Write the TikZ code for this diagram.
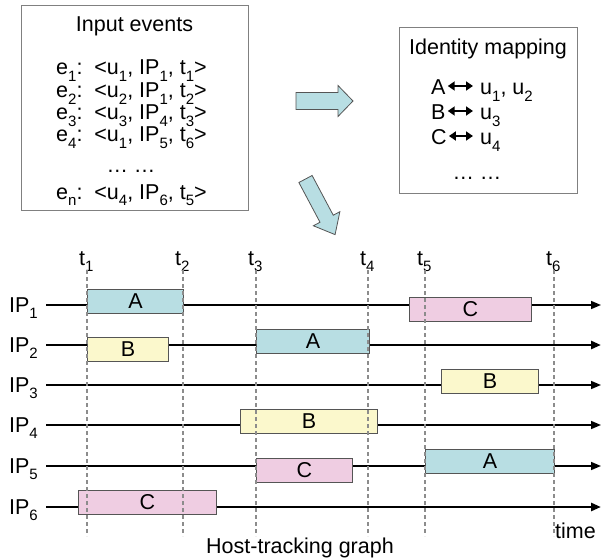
\documentclass[tikz,border=0pt]{standalone}
\usepackage{fontspec}
\setmainfont{Liberation Sans}
\usetikzlibrary{arrows.meta}
% lowered subscript in the style of the slides
\newcommand\lo[1]{\raisebox{-0.3em}{\fontsize{15}{15}\selectfont #1}}
\definecolor{hostA}{HTML}{B8DEE3}
\definecolor{hostB}{HTML}{FBF8CC}
\definecolor{hostC}{HTML}{EFCDE2}
\definecolor{edge}{HTML}{555555}
\begin{document}
\begin{tikzpicture}[x=1pt,y=-1pt,
  font=\fontsize{21.5}{25}\selectfont,
  panel/.style={draw=black!50, line width=0.9pt},
  txt/.style={inner sep=0pt, anchor=base west},
  iplabel/.style={inner sep=0pt, anchor=base east},
  tlabel/.style={inner sep=0pt, anchor=base west},
  timeline/.style={line width=1.6pt, -{Triangle[length=10pt,width=8pt]}},
  heavyline/.style={line width=2.6pt, -{Triangle[length=10pt,width=8pt]}},
  tick/.style={draw=black!45, line width=1.3pt, dash pattern=on 4pt off 3pt},
  slot/.style={draw=edge, line width=0.9pt, inner sep=0pt, anchor=west, minimum height=24pt},
  slotA/.style={slot, fill=hostA},
  slotB/.style={slot, fill=hostB},
  slotC/.style={slot, fill=hostC},
  blockarrow/.style={draw=edge, line width=0.8pt, fill=hostA},
  maparrow/.style={line width=2.2pt, {Triangle[length=7pt,width=9pt]}-{Triangle[length=7pt,width=9pt]}}
]
\useasboundingbox (0,0) rectangle (602,559);

% ---- input events panel
\draw[panel] (21,5) rectangle (248,210);
\node[inner sep=0pt, anchor=base] (evtitle) at (134.5,32) {Input events};
\node[txt] (ev1) at (56,75) {e\lo{1}:\ \ {<}u\lo{1}, IP\lo{1}, t\lo{1}{>}};
\node[txt] (ev2) at (56,98) {e\lo{2}:\ \ {<}u\lo{2}, IP\lo{1}, t\lo{2}{>}};
\node[txt] (ev3) at (56,120) {e\lo{3}:\ \ {<}u\lo{3}, IP\lo{4}, t\lo{3}{>}};
\node[txt] (ev4) at (56,142) {e\lo{4}:\ \ {<}u\lo{1}, IP\lo{5}, t\lo{6}{>}};
\node[inner sep=0pt, anchor=base] (evdots) at (131,172) {\dots\ \dots};
\node[txt] (evn) at (56,199) {e\lo{n}:\ \ {<}u\lo{4}, IP\lo{6}, t\lo{5}{>}};

% ---- identity mapping panel
\draw[panel] (399,27) rectangle (577,193);
\node[inner sep=0pt, anchor=base] (idtitle) at (488,55) {Identity mapping};
\node[txt] (idA) at (431,95) {A};
\node[txt] (idB) at (431,120) {B};
\node[txt] (idC) at (431,145) {C};
\node[txt] (uA) at (480,95) {u\lo{1}, u\lo{2}};
\node[txt] (uB) at (480,120) {u\lo{3}};
\node[txt] (uC) at (480,145) {u\lo{4}};
\node[inner sep=0pt, anchor=base] (iddots) at (477,179) {\dots\ \dots};
\foreach \r in {A,B,C}{
  \draw[maparrow] ([xshift=2pt,yshift=9pt]id\r.base east) -- ([xshift=-7pt,yshift=9pt]u\r.base west);
}

% ---- block arrows between the panels
\draw[blockarrow, shift={(296,101)}]
  (0,-8.5) -- (42,-8.5) -- (42,-15.5) -- (57,0) -- (42,15.5) -- (42,8.5) -- (0,8.5) -- cycle;
\draw[blockarrow, shift={(305.5,179)}, rotate=-62]
  (0,-7.5) -- (45,-7.5) -- (45,-15) -- (63,0) -- (45,15) -- (45,7.5) -- (0,7.5) -- cycle;

% ---- host timelines
\foreach \i/\y/\st in {1/305/timeline,2/345/heavyline,3/385/timeline,4/425/timeline,5/466/timeline,6/507/heavyline}{
  \node[iplabel] (ip\i) at (38,\y+7) {IP\lo{\i}};
  \coordinate (ls\i) at (46,\y);
  \coordinate (le\i) at (601,\y);
  \draw[\st] (ls\i) -- (le\i);
}

% ---- login slots
\node[slotA, minimum width=96pt]  (s1a) at (87,301)  {A};
\node[slotC, minimum width=122pt] (s1c) at (409,309) {C};
\node[slotB, minimum width=81pt]  (s2b) at (87,349)  {B};
\node[slotA, minimum width=113pt] (s2a) at (256,341) {A};
\node[slotB, minimum width=97pt]  (s3b) at (441,381.5) {B};
\node[slotB, minimum width=137pt] (s4b) at (240,421.5) {B};
\node[slotC, minimum width=96pt]  (s5c) at (256,470) {C};
\node[slotA, minimum width=129pt] (s5a) at (425,461.5) {A};
\node[slotC, minimum width=138pt] (s6c) at (78,502)  {C};

% ---- time marks, drawn over the slots
\foreach \i/\x in {1/87,2/183,3/256,4/368,5/425,6/554}{
  \node[tlabel] (t\i) at (\x-8,265) {t\lo{\i}};
  \coordinate (tb\i) at (\x,536);
  \draw[tick] (\x,270) -- (tb\i);
}

% ---- captions
\node[txt] (timecap) at (555,538) {time};
\node[inner sep=0pt, anchor=base] (graphcap) at (300,553) {Host-tracking graph};
\end{tikzpicture}
\end{document}
